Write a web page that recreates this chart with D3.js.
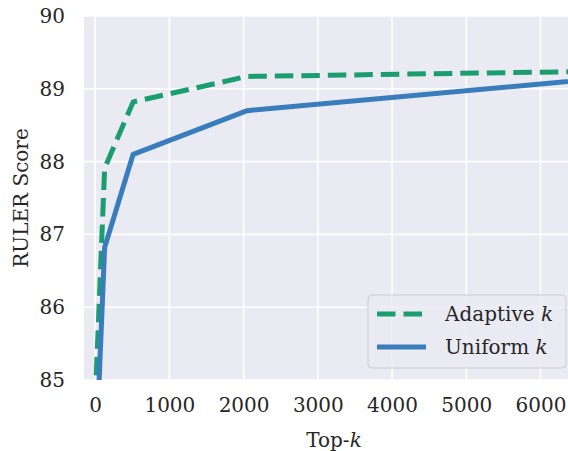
<!DOCTYPE html>
<html>
<head>
<meta charset="utf-8">
<script src="https://cdn.jsdelivr.net/npm/d3@7"></script>
<style>
  body { margin: 0; background: #fff; }
</style>
</head>
<body>
<svg id="chart" width="568" height="451"></svg>
<script>
// data
const topK = [1, 128, 512, 2048, 8192];
const adaptiveScores = [84.7, 87.91, 88.82, 89.17, 89.26];
const uniformScores = [83.7, 86.82, 88.1, 88.7, 89.27];
const xTicks = [0, 1000, 2000, 3000, 4000, 5000, 6000];
const yTicks = [85, 86, 87, 88, 89, 90];

const series = [
    { name: 'Adaptive', values: adaptiveScores, color: '#1b9e6f', dash: '18.5,8' },
    { name: 'Uniform', values: uniformScores, color: '#3a7dbd', dash: null }
];

const serif = 'DejaVu Serif';
const fontSize = 20;
const margin = { top: 16, right: 0, bottom: 71, left: 84 };
const width = 568 - margin.left - margin.right;
const height = 451 - margin.top - margin.bottom;

const svg = d3.select('#chart')
    .attr('font-family', serif);

const ctx = svg.append('g')
    .attr('transform', `translate(${margin.left},${margin.top})`);

const xScale = d3.scaleLinear()
    .domain([-150, 6370])
    .range([0, width]);

const yScale = d3.scaleLinear()
    .domain([85, 90])
    .range([height, 0]);

// background
ctx.append('rect')
    .attr('width', width)
    .attr('height', height)
    .attr('fill', '#eaeaf2');

ctx.append('clipPath')
    .attr('id', 'plot-clip')
    .append('rect')
    .attr('width', width)
    .attr('height', height);

// grid
ctx.append('g')
    .selectAll('line')
    .data(xTicks)
    .join('line')
    .attr('x1', d => xScale(d))
    .attr('x2', d => xScale(d))
    .attr('y1', 0)
    .attr('y2', height)
    .attr('stroke', '#fff')
    .attr('stroke-width', 1.6);

ctx.append('g')
    .selectAll('line')
    .data(yTicks)
    .join('line')
    .attr('x1', 0)
    .attr('x2', width)
    .attr('y1', d => yScale(d))
    .attr('y2', d => yScale(d))
    .attr('stroke', '#fff')
    .attr('stroke-width', 1.6);

// axes (no tick marks, seaborn darkgrid look)
const xAxis = d3.axisBottom(xScale).tickValues(xTicks).tickFormat(d3.format('d')).tickSize(0).tickPadding(18);
const yAxis = d3.axisLeft(yScale).tickValues(yTicks).tickFormat(d3.format('d')).tickSize(0).tickPadding(19);

const xAxisG = ctx.append('g')
    .attr('transform', `translate(0,${height})`)
    .call(xAxis);
const yAxisG = ctx.append('g').call(yAxis);

[xAxisG, yAxisG].forEach(g => {
    g.attr('font-family', serif).attr('font-size', fontSize);
    g.select('.domain').remove();
    g.selectAll('text').attr('fill', '#262626');
});
xAxisG.selectAll('text').attr('dy', '0.71em');

// lines
const line = d3.line()
    .x((d, i) => xScale(topK[i]))
    .y(d => yScale(d));

ctx.append('g')
    .attr('clip-path', 'url(#plot-clip)')
    .selectAll('path')
    .data(series)
    .join('path')
    .attr('d', d => line(d.values))
    .attr('fill', 'none')
    .attr('stroke', d => d.color)
    .attr('stroke-width', 5)
    .attr('stroke-dasharray', d => d.dash)
    .attr('stroke-linejoin', 'round');

// axis labels
const xLabel = svg.append('text')
    .attr('x', margin.left + width / 2 + 8)
    .attr('y', 447)
    .attr('text-anchor', 'middle')
    .attr('font-size', fontSize)
    .attr('fill', '#262626');
xLabel.append('tspan').text('Top-');
xLabel.append('tspan').attr('font-style', 'italic').text('k');

svg.append('text')
    .attr('transform', `translate(28,${margin.top + height / 2}) rotate(-90)`)
    .attr('text-anchor', 'middle')
    .attr('font-size', fontSize)
    .attr('fill', '#262626')
    .text('RULER Score');

// legend
const legend = ctx.append('g')
    .attr('transform', `translate(${368 - margin.left},${295 - margin.top})`);

legend.append('rect')
    .attr('width', 198)
    .attr('height', 73)
    .attr('rx', 4)
    .attr('fill', '#eaeaf2')
    .attr('fill-opacity', 0.8)
    .attr('stroke', '#cccccc')
    .attr('stroke-width', 1);

const items = legend.selectAll('g.item')
    .data(series)
    .join('g')
    .attr('class', 'item')
    .attr('transform', (d, i) => `translate(0,${19 + i * 33})`);

items.append('line')
    .attr('x1', 9)
    .attr('x2', 58)
    .attr('stroke', d => d.color)
    .attr('stroke-width', 5)
    .attr('stroke-dasharray', d => d.dash ? '18.5,8' : null);

const labels = items.append('text')
    .attr('x', 77)
    .attr('dy', '0.35em')
    .attr('font-size', 20)
    .attr('fill', '#262626');
labels.append('tspan').text(d => d.name + ' ');
labels.append('tspan').attr('font-style', 'italic').text('k');
</script>
</body>
</html>
